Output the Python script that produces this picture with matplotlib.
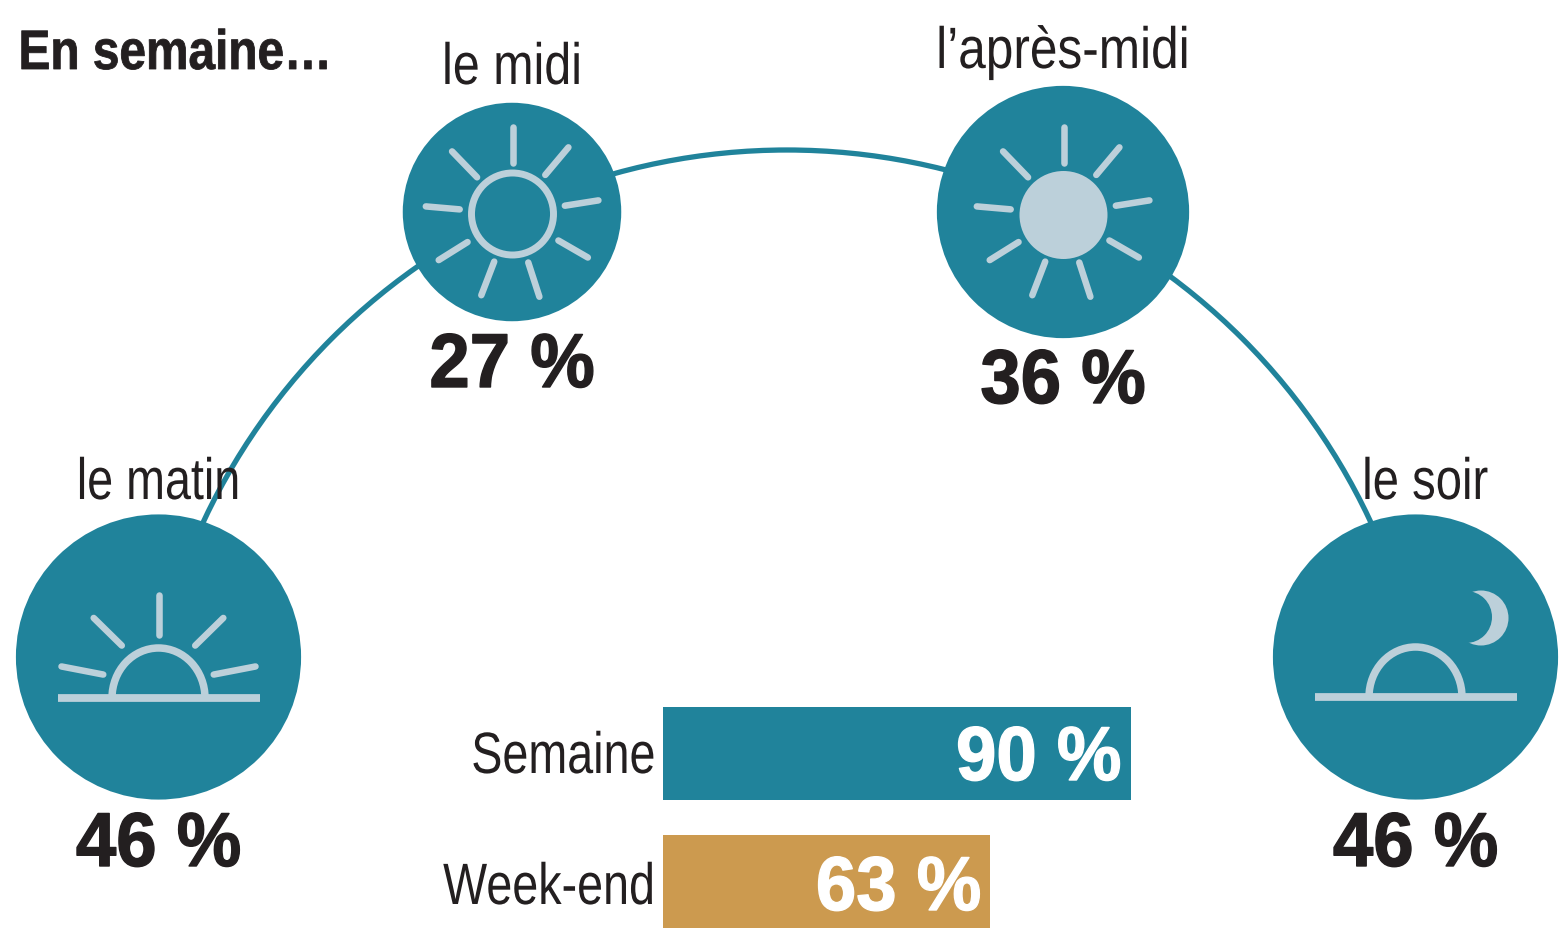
#!/usr/bin/env python3

import matplotlib
matplotlib.use("Agg")
import matplotlib.pyplot as plt
from matplotlib.patches import Circle, Arc, Rectangle
from matplotlib.patheffects import AbstractPathEffect
from matplotlib.transforms import Affine2D
import numpy as np

W, H = 1562, 934
TEAL = "#20839b"
PALE = "#bcd0da"
GOLD = "#cc9a4f"
INK = "#231f20"

moments = ["le matin", "le midi", "l’après-midi", "le soir"]
shares = [46, 27, 36, 46]
bar_names = ["Semaine", "Week-end"]
bar_values = [90, 63]
bar_colors = [TEAL, GOLD]
title = "En semaine…"

# centres of the four circles, image pixels
cx = [158.5, 512, 1063, 1415.5]
cy = [657, 212, 212, 657]

plt.rcParams["font.family"] = ["Liberation Sans", "DejaVu Sans"]


class Squeeze(AbstractPathEffect):
    # the reference uses a condensed face, none is installed
    def __init__(self, k, ha="center", bold=0.0):
        super().__init__()
        self.k = k
        self.ha = ha
        self.bold = bold

    def draw_path(self, renderer, gc, tpath, affine, rgbFace=None):
        ext = tpath.get_extents()
        a = {"left": ext.x0, "center": (ext.x0 + ext.x1) / 2, "right": ext.x1}[self.ha]
        squeeze = Affine2D().translate(-a, 0).scale(self.k, 1).translate(a, 0)
        if self.bold:
            gc.set_linewidth(self.bold)
            gc.set_foreground(rgbFace)
        renderer.draw_path(gc, tpath, squeeze + affine, rgbFace)


fig = plt.figure(figsize=(W / 100, H / 100), dpi=100)
ax = fig.add_axes([0, 0, 1, 1])
ax.set_xlim(0, W)
ax.set_ylim(H, 0)
ax.axis("off")


def put(x, y, s, size, k, ha="center", weight="normal", color=INK, bold=0.0):
    ax.text(x, y, s, fontsize=size, weight=weight, color=color, ha=ha, va="baseline", zorder=6,
            path_effects=[Squeeze(k, ha, bold)])


def sun_rays(x, y, rays):
    # each ray: inner radius, inner angle, outer radius, outer angle
    for r0, a0, r1, a1 in rays:
        a0 = np.radians(a0)
        a1 = np.radians(a1)
        ax.plot([x + r0 * np.cos(a0), x + r1 * np.cos(a1)],
                [y - r0 * np.sin(a0), y - r1 * np.sin(a1)],
                color=PALE, lw=4.7, solid_capstyle="round", zorder=4)


def horizon(x, y):
    ax.plot([x - 101, x + 101], [y, y], color=PALE, lw=5.6, solid_capstyle="butt", zorder=4)
    ax.add_patch(Arc((x, y), 93, 100, theta1=180, theta2=360, color=PALE, lw=5.4, zorder=4))


# big arch behind the circles
ax.add_patch(Arc((787, 794), 2 * 644, 2 * 644, theta1=180, theta2=360, color=TEAL, lw=3.8, zorder=1))

for x, y, v in zip(cx, cy, shares):
    # circle area follows the value
    ax.add_patch(Circle((x, y), np.sqrt(v * 442), color=TEAL, lw=0, zorder=2))

noon_rays = [(a_r, a, 87, a) for a_r, a in
             [(51, 90), (51, 50), (53, 9), (53, -30), (51, -72), (51, 249), (53, 212), (53, 175), (51, 134)]]
dawn_rays = [(63, 90, 103, 90), (64, 55, 103, 51), (60, 23, 102, 18), (60, 157, 102, 162), (64, 125, 103, 129)]

# matin
sun_rays(158.5, 698, dawn_rays)
horizon(158.5, 698)

# midi
sun_rays(512.5, 214, noon_rays)
ax.add_patch(Circle((512.5, 214), 41, fill=False, ec=PALE, lw=5, zorder=4))

# apres-midi
sun_rays(1063.5, 214, noon_rays)
ax.add_patch(Circle((1063.5, 215), 44, color=PALE, lw=0, zorder=4))

# soir
horizon(1415.5, 697)
ax.add_patch(Circle((1481, 618), 27.5, color=PALE, lw=0, zorder=4))
ax.add_patch(Circle((1466, 617), 26, color=TEAL, lw=0, zorder=5))

# labels
name_x = [158.5, 512, 1063, 1425]
name_y = [499, 84, 68, 499]
name_k = [0.80, 0.83, 0.85, 0.81]
value_y = [866, 387, 403, 866]
for i in range(4):
    put(name_x[i], name_y[i], moments[i], 42, name_k[i])
    put(cx[i], value_y[i], f"{shares[i]} %", 55, 0.95, weight="bold", bold=1.0)

put(18, 69, title, 40, 0.86, ha="left", weight="bold", bold=0.6)

# bars, px per percent
x0 = 663
scale = 5.195
bar_top = [707, 835]
label_y = [773, 904]
num_y = [780, 910]
for i in range(2):
    ax.add_patch(Rectangle((x0, bar_top[i]), bar_values[i] * scale, 93, color=bar_colors[i], lw=0))
    put(x0 - 7, label_y[i], bar_names[i], 42, 0.80, ha="right")
    put(x0 + bar_values[i] * scale - 9, num_y[i], f"{bar_values[i]} %", 55, 0.95, ha="right",
        weight="bold", color="white", bold=1.0)

fig.savefig("out.png", dpi=100)
